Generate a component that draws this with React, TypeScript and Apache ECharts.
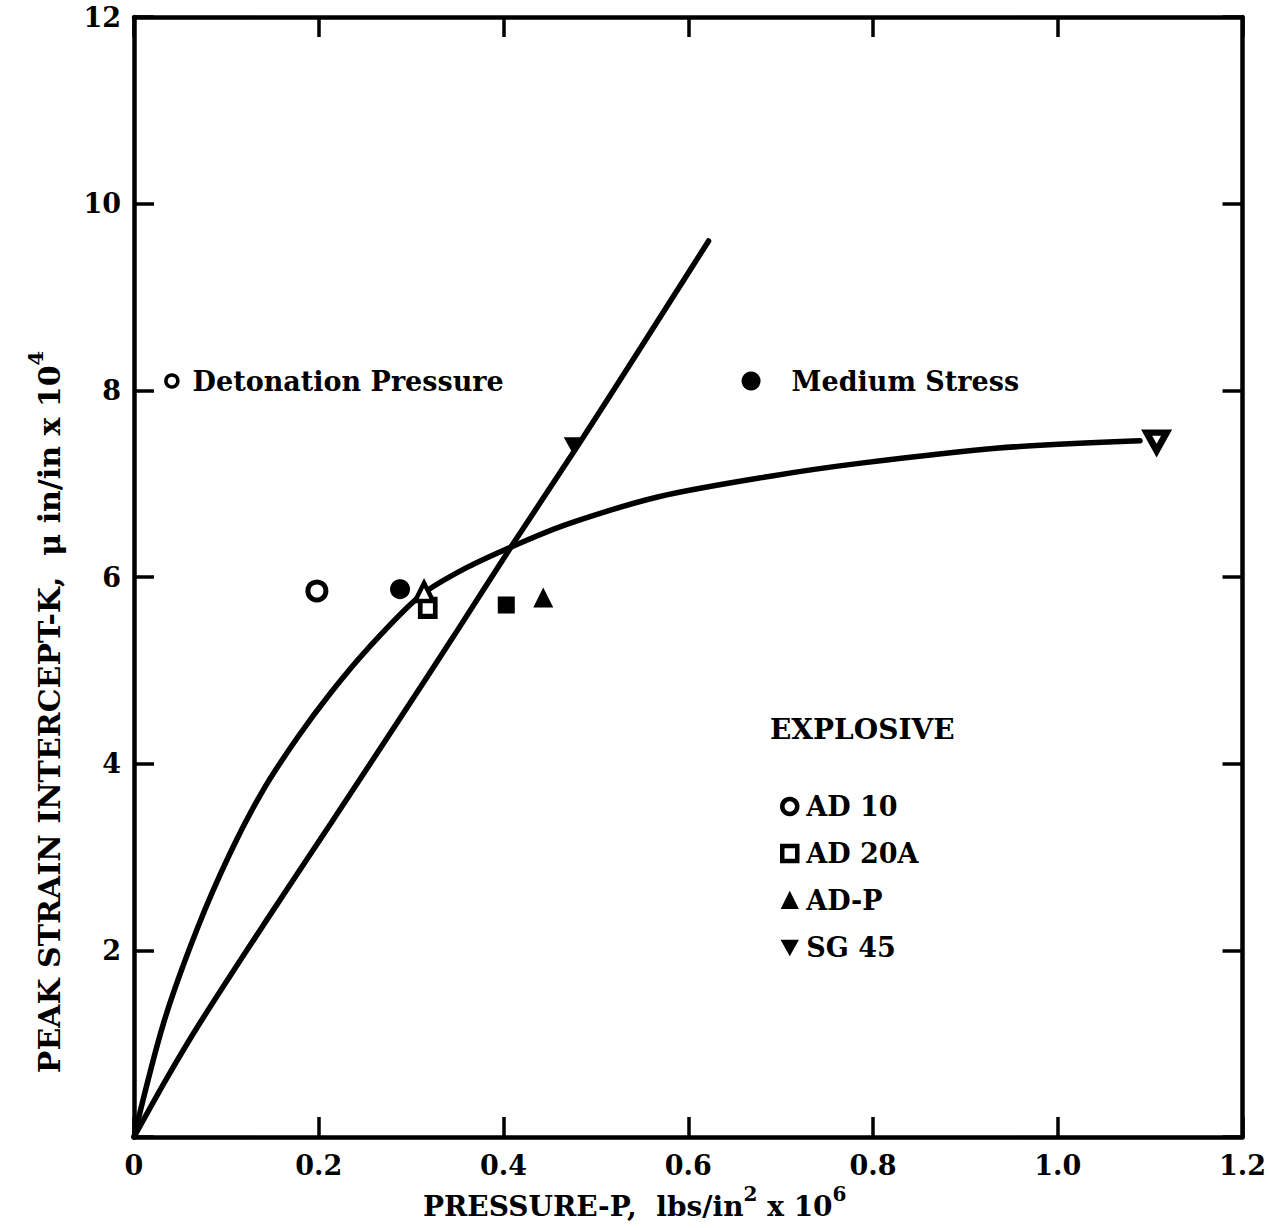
import React, { useEffect, useRef } from "react";
import * as echarts from "echarts";

// ---- data ----
const xTickValues = [0, 0.2, 0.4, 0.6, 0.8, 1.0, 1.2];
const yTickValues = [0, 2, 4, 6, 8, 10, 12];

// saturating fitted curve (upper curve, ends at SG 45 point)
const curveX = [0, 0.032, 0.068, 0.104, 0.14, 0.177, 0.213, 0.252, 0.31, 0.36, 0.417, 0.47, 0.568, 0.689, 0.787, 0.933, 1.089];
const curveY = [0, 1.22, 2.22, 3.04, 3.72, 4.28, 4.76, 5.22, 5.8, 6.1, 6.36, 6.57, 6.86, 7.08, 7.22, 7.38, 7.46];

// nearly straight fitted line
const lineX = [0, 0.035, 0.07, 0.14, 0.213, 0.285, 0.347, 0.41, 0.48, 0.55, 0.622];
const lineY = [0, 0.62, 1.2, 2.27, 3.36, 4.44, 5.38, 6.35, 7.4, 8.48, 9.6];

const ad10Open = [[0.198, 5.85]];
const ad10Filled = [[0.288, 5.87]];
const ad20aOpen = [[0.318, 5.67]];
const ad20aFilled = [[0.403, 5.7]];
const adpOpen = [[0.314, 5.84]];
const adpFilled = [[0.443, 5.78]];
const sg45Open = [[1.107, 7.45]];
const sg45Filled = [[0.476, 7.4]];

const keyLabels = ["Detonation Pressure", "Medium Stress"];
const keyPositions = [[0.041, 8.1], [0.668, 8.1]];

const legendNames = ["AD 10", "AD 20A", "AD-P", "SG 45"];

const FONT = "DejaVu Serif";
const DOWN_TRI = "path://M0,0L10,0L5,9Z";

export default function App() {
  const ref = useRef<HTMLDivElement>(null);

  useEffect(() => {
    if (!ref.current) return;
    const chart = echarts.init(ref.current, undefined, { renderer: "svg" });

    const openStyle = { color: "#fff", borderColor: "#000", borderWidth: 5, opacity: 1 };
    const filledStyle = { color: "#000", opacity: 1 };
    const textBase = { fontFamily: FONT, fontWeight: "bold" as const, color: "#000" };

    const zip = (xs: number[], ys: number[]) => xs.map((x, i) => [x, ys[i]]);

    const axisLine = { show: true, onZero: false, lineStyle: { color: "#000", width: 4.5 } };
    const axisTick = { show: true, inside: true, length: 20, lineStyle: { color: "#000", width: 3.5 } };

    const option: any = {
      animation: false,
      backgroundColor: "#fff",
      grid: { left: 134, right: 26, top: 17, bottom: 91 },
      xAxis: [
        {
          type: "value",
          min: 0,
          max: 1.2,
          interval: 0.2,
          position: "bottom",
          axisLine,
          axisTick,
          splitLine: { show: false },
          axisLabel: {
            ...textBase,
            fontSize: 27,
            margin: 15,
            formatter: (v: number) => (v === 0 ? "0" : v.toFixed(1)),
          },
          name: "{a|PRESSURE-P,  lbs/in}{s|2}{a| x 10}{s|6}",
          nameLocation: "middle",
          nameGap: 40,
          nameTextStyle: {
            padding: [0, 107, 0, 0],
            rich: {
              a: { ...textBase, fontSize: 28, verticalAlign: "bottom", lineHeight: 32 },
              s: { ...textBase, fontSize: 20, verticalAlign: "bottom", padding: [0, 0, 17, 0] },
            },
          },
        },
        {
          type: "value",
          min: 0,
          max: 1.2,
          interval: 0.2,
          position: "top",
          axisLine,
          axisTick,
          splitLine: { show: false },
          axisLabel: { show: false },
        },
      ],
      yAxis: [
        {
          type: "value",
          min: 0,
          max: 12,
          interval: 2,
          position: "left",
          axisLine,
          axisTick,
          splitLine: { show: false },
          axisLabel: {
            ...textBase,
            fontSize: 27,
            margin: 13,
            formatter: (v: number) => (v === 0 ? "" : String(v)),
          },
          name: "{a|PEAK STRAIN INTERCEPT-K,  \u03bc in/in x 10}{s|4}",
          nameLocation: "middle",
          nameGap: 70,
          nameTextStyle: {
            padding: [0, 270, 0, 0],
            rich: {
              a: { ...textBase, fontSize: 30, verticalAlign: "bottom", lineHeight: 34 },
              s: { ...textBase, fontSize: 21, verticalAlign: "bottom", padding: [0, 0, 18, 0] },
            },
          },
        },
        {
          type: "value",
          min: 0,
          max: 12,
          interval: 2,
          position: "right",
          axisLine,
          axisTick,
          splitLine: { show: false },
          axisLabel: { show: false },
        },
      ],
      legend: {
        orient: "vertical",
        left: 775,
        top: 788,
        itemWidth: 15,
        itemHeight: 15,
        itemGap: 20,
        selectedMode: false,
        textStyle: { ...textBase, fontSize: 27, lineHeight: 27, padding: [0, 0, 0, 4] },
        data: [
          { name: legendNames[0], icon: "circle", itemStyle: { color: "#fff", borderColor: "#000", borderWidth: 4.5 } },
          { name: legendNames[1], icon: "rect", itemStyle: { color: "#fff", borderColor: "#000", borderWidth: 4.5 } },
          { name: legendNames[2], icon: "triangle", itemStyle: { color: "#000" } },
          { name: legendNames[3], icon: DOWN_TRI, itemStyle: { color: "#000" } },
        ],
      },
      graphic: [
        {
          type: "text",
          left: 770,
          top: 715,
          style: { text: "EXPLOSIVE", fontFamily: FONT, fontWeight: "bold", fontSize: 28, fill: "#000" },
        },
      ],
      series: [
        {
          name: "Curve",
          type: "line",
          data: zip(curveX, curveY),
          smooth: 0.3,
          showSymbol: false,
          symbol: "none",
          lineStyle: { color: "#000", width: 5.5, cap: "round", opacity: 1 },
          z: 2,
        },
        {
          name: "Line",
          type: "line",
          data: zip(lineX, lineY),
          smooth: 0.3,
          showSymbol: false,
          symbol: "none",
          lineStyle: { color: "#000", width: 5.5, cap: "round", opacity: 1 },
          z: 2,
        },
        { name: legendNames[0], type: "scatter", data: ad10Open, symbol: "circle", symbolSize: 18, itemStyle: openStyle, z: 3 },
        { name: "AD 10 medium", type: "scatter", data: ad10Filled, symbol: "circle", symbolSize: 20, itemStyle: filledStyle, z: 3 },
        { name: legendNames[1], type: "scatter", data: ad20aOpen, symbol: "rect", symbolSize: [15, 17], itemStyle: openStyle, z: 3 },
        { name: "AD 20A medium", type: "scatter", data: ad20aFilled, symbol: "rect", symbolSize: 17, itemStyle: filledStyle, z: 3 },
        { name: legendNames[2], type: "scatter", data: adpOpen, symbol: "triangle", symbolSize: 18, itemStyle: { ...openStyle, borderWidth: 4.5 }, z: 4 },
        { name: "AD-P medium", type: "scatter", data: adpFilled, symbol: "triangle", symbolSize: 20, itemStyle: filledStyle, z: 3 },
        { name: legendNames[3], type: "scatter", data: sg45Open, symbol: DOWN_TRI, symbolSize: [20, 18], itemStyle: { color: "#fff", borderColor: "#000", borderWidth: 6.5, opacity: 1 }, z: 3 },
        { name: "SG 45 medium", type: "scatter", data: sg45Filled, symbol: DOWN_TRI, symbolSize: [20, 18], itemStyle: filledStyle, z: 3 },
        {
          name: "Key",
          type: "scatter",
          z: 3,
          itemStyle: { opacity: 1 },
          data: [
            {
              value: keyPositions[0],
              symbol: "circle",
              symbolSize: 12,
              itemStyle: { color: "#fff", borderColor: "#000", borderWidth: 3.5, opacity: 1 },
              label: { show: true, position: "right", distance: 13, formatter: keyLabels[0], ...textBase, fontSize: 27 },
            },
            {
              value: keyPositions[1],
              symbol: "circle",
              symbolSize: 19,
              itemStyle: { color: "#000", opacity: 1 },
              label: { show: true, position: "right", distance: 31, formatter: keyLabels[1], ...textBase, fontSize: 27 },
            },
          ],
        },
      ],
    };

    chart.setOption(option);
    return () => chart.dispose();
  }, []);

  return (
    <div
      ref={ref}
      style={{ position: "absolute", left: 0, top: 0, width: 1269, height: 1228, background: "#fff" }}
    />
  );
}
